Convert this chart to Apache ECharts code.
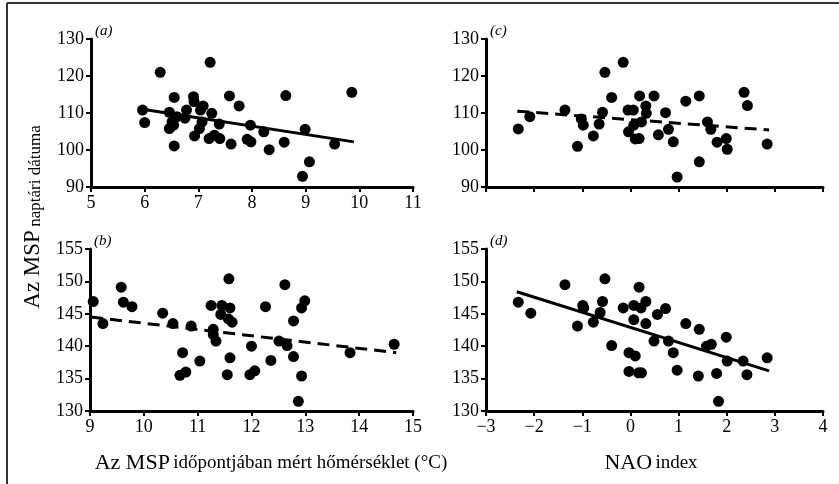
<!DOCTYPE html>
<html>
<head>
<meta charset="utf-8">
<script src="https://cdn.jsdelivr.net/npm/echarts@6/dist/echarts.min.js"></script>
<style>
html,body{margin:0;padding:0;background:#fff;}
#chart{width:839px;height:484px;}
</style>
</head>
<body>
<div id="chart"></div>
<script>
// Panel (a): temperature vs MSP date (first period)
const tempA = [5.96,6.0,6.29,6.46,6.46,6.51,6.55,6.55,6.54,6.6,6.75,6.78,6.91,6.92,6.93,7.04,7.09,7.02,7.07,7.22,7.2,7.25,7.3,7.4,7.39,7.58,7.61,7.76,7.97,7.91,7.98,8.22,8.32,8.6,8.63,8.94,8.99,9.07,9.54,9.86];
const dateA = [110.8,107.4,121.0,110.2,105.8,107.6,114.2,101.1,106.7,109.0,108.6,110.8,114.4,113.1,103.8,110.8,111.9,105.8,107.6,123.7,103.1,109.9,104.0,103.1,107.0,114.6,101.6,111.9,106.7,102.9,102.2,104.9,100.1,102.1,114.7,92.9,105.6,96.8,101.6,115.6];
const trendA = [[5.96,111.0],[9.9,102.2]];

// Panel (c): NAO index vs MSP date (first period)
const naoC = [-2.33,-2.09,-1.36,-1.10,-1.02,-0.98,-0.77,-0.65,-0.58,-0.53,-0.39,-0.15,-0.05,0.06,-0.04,0.07,0.10,0.18,0.19,0.23,0.32,0.33,0.49,0.58,0.73,0.79,0.89,0.97,1.15,1.43,1.43,1.60,1.67,1.80,1.99,2.01,2.36,2.43,2.84];
const dateC = [105.7,109.0,110.8,101.0,108.4,106.7,103.8,107.0,110.2,121.0,114.2,123.7,110.8,110.8,104.9,106.7,103.0,103.1,114.6,107.6,111.9,109.9,114.6,104.1,110.1,105.6,102.2,92.7,113.2,114.6,96.8,107.6,105.6,102.1,103.1,100.2,115.6,112.0,101.6];
const trendC = [[-2.35,110.5],[2.88,105.4]];

// Panel (b): temperature vs MSP date (second period)
const tempB = [9.06,9.24,9.58,9.62,9.78,10.35,10.54,10.88,10.67,10.72,10.78,11.04,11.25,11.29,11.29,11.34,11.45,11.43,11.58,11.60,11.57,11.64,11.60,11.55,12.0,11.97,12.06,12.26,12.36,12.51,12.62,12.66,12.78,12.78,12.93,12.99,12.93,12.87,13.83,14.65];
const dateB = [146.9,143.5,149.1,146.8,146.1,145.1,143.5,143.1,135.5,139.0,136.0,137.7,146.3,142.6,141.8,140.8,146.3,144.9,150.4,145.9,144.2,143.7,138.2,135.6,140.0,135.6,136.2,146.1,137.8,140.8,149.5,140.1,143.9,138.4,145.9,147.0,135.4,131.5,139.0,140.3];
const trendB = [[9.02,144.5],[14.69,139.0]];

// Panel (d): NAO index vs MSP date (second period)
const naoD = [-2.33,-2.07,-1.36,-1.10,-0.99,-0.97,-0.77,-0.63,-0.58,-0.53,-0.39,-0.15,-0.03,-0.03,0.07,0.07,0.10,0.18,0.22,0.17,0.23,0.32,0.32,0.49,0.56,0.73,0.79,0.89,0.97,1.15,1.43,1.41,1.58,1.68,1.79,1.83,1.99,2.01,2.34,2.42,2.84];
const dateD = [146.8,145.1,149.5,143.1,146.3,145.9,143.7,145.2,146.9,150.4,140.1,145.9,139.0,136.1,146.3,144.1,138.5,149.1,145.9,135.9,135.9,146.9,143.5,140.8,144.9,145.8,140.8,139.0,136.3,143.5,142.6,135.4,140.0,140.3,135.8,131.5,141.4,137.7,137.7,135.6,138.2];
const trendD = [[-2.36,148.4],[2.88,136.2]];

const panelLabels = ['(a)','(c)','(b)','(d)'];
const yAxisTitleBig = 'Az MSP';
const yAxisTitleSmall = 'naptári dátuma';
const xTitleLeftBig = 'Az MSP';
const xTitleLeftSmall = 'időpontjában mért hőmérséklet (°C)';
const xTitleRightBig = 'NAO';
const xTitleRightSmall = 'index';

const FONT = 'Liberation Serif';
const zip = (xs, ys) => xs.map((x, i) => [x, ys[i]]);

const grids = [
  {left: 91, top: 39, width: 322, height: 148},
  {left: 486, top: 39, width: 337, height: 148},
  {left: 90, top: 249, width: 323, height: 162},
  {left: 486, top: 249, width: 337, height: 162}
];
const xRanges = [[5,11,true],[-3,4,false],[9,15,true],[-3,4,true]];
const yRanges = [[90,130,10],[90,130,10],[130,155,5],[130,155,5]];

function xAxisCfg(i){
  const r = xRanges[i];
  return {
    type: 'value', gridIndex: i, min: r[0], max: r[1], interval: 1,
    axisLine: {onZero: false, lineStyle: {color: '#000', width: 3}},
    axisTick: {show: true, length: 5, lineStyle: {color: '#000', width: 2}},
    splitLine: {show: false},
    axisLabel: {show: r[2], color: '#000', fontFamily: FONT, fontSize: 18, margin: 7,
      formatter: v => (v < 0 ? '\u2212' + Math.abs(v) : String(v))}
  };
}
function yAxisCfg(i){
  const r = yRanges[i];
  return {
    type: 'value', gridIndex: i, min: r[0], max: r[1], interval: r[2],
    axisLine: {show: true, onZero: false, lineStyle: {color: '#000', width: 3}},
    axisTick: {show: true, length: 5, lineStyle: {color: '#000', width: 2}},
    splitLine: {show: false},
    axisLabel: {color: '#000', fontFamily: FONT, fontSize: 18, margin: 7}
  };
}

const pts = [zip(tempA, dateA), zip(naoC, dateC), zip(tempB, dateB), zip(naoD, dateD)];
const trends = [trendA, trendC, trendB, trendD];
const dashed = [false, true, true, false];

const series = [];
for (let i = 0; i < 4; i++) {
  series.push({
    type: 'scatter', xAxisIndex: i, yAxisIndex: i, data: pts[i],
    symbol: 'circle', symbolSize: 11, itemStyle: {color: '#000', opacity: 1}, silent: true
  });
  series.push({
    type: 'line', xAxisIndex: i, yAxisIndex: i, data: trends[i],
    showSymbol: false, symbol: 'none', silent: true,
    lineStyle: {color: '#000', width: 3, type: dashed[i] ? [12, 7] : 'solid'}
  });
}

const labelPos = [[95, 31], [490, 31], [94, 241], [490, 241]];
const graphics = [
  {type: 'line', shape: {x1: 7, y1: 3, x2: 839, y2: 3}, style: {stroke: '#333', lineWidth: 2}},
  {type: 'line', shape: {x1: 7, y1: 3, x2: 7, y2: 484}, style: {stroke: '#333', lineWidth: 2}},
  {type: 'text', x: 33, y: 217, rotation: Math.PI / 2,
    style: {text: '{a|' + yAxisTitleBig + '} {b|' + yAxisTitleSmall + '}', align: 'center', verticalAlign: 'middle',
      rich: {a: {fontFamily: FONT, fontSize: 23, fill: '#000'}, b: {fontFamily: FONT, fontSize: 17, fill: '#000', padding: [6,0,0,0]}}}},
  {type: 'text', x: 271, y: 463,
    style: {text: '{a|' + xTitleLeftBig + '} {b|' + xTitleLeftSmall + '}', align: 'center', verticalAlign: 'middle',
      rich: {a: {fontFamily: FONT, fontSize: 22, fill: '#000'}, b: {fontFamily: FONT, fontSize: 19, fill: '#000'}}}},
  {type: 'text', x: 651, y: 463,
    style: {text: '{a|' + xTitleRightBig + '} {b|' + xTitleRightSmall + '}', align: 'center', verticalAlign: 'middle',
      rich: {a: {fontFamily: FONT, fontSize: 22, fill: '#000'}, b: {fontFamily: FONT, fontSize: 19, fill: '#000'}}}}
];
for (let i = 0; i < 4; i++) {
  graphics.push({type: 'text', x: labelPos[i][0], y: labelPos[i][1],
    style: {text: panelLabels[i], fontFamily: FONT, fontStyle: 'italic', fontSize: 15, fill: '#000', align: 'left', verticalAlign: 'middle'}});
}

const chart = echarts.init(document.getElementById('chart'), null, {renderer: 'canvas'});
chart.setOption({
  animation: false,
  backgroundColor: '#fff',
  grid: grids,
  xAxis: [0,1,2,3].map(xAxisCfg),
  yAxis: [0,1,2,3].map(yAxisCfg),
  series: series,
  graphic: graphics
});
</script>
</body>
</html>
